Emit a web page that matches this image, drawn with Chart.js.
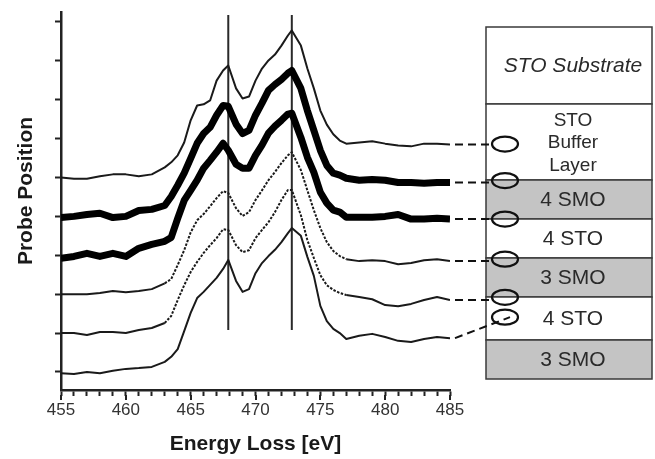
<!DOCTYPE html>
<html>
<head>
<meta charset="utf-8">
<script src="https://cdn.jsdelivr.net/npm/chart.js@4.4.1/dist/chart.umd.min.js"></script>
<style>
  html, body { margin: 0; padding: 0; background: #fff; }
  canvas { display: block; }
</style>
</head>
<body>
<canvas id="eels" width="655" height="459"></canvas>
<script>
// energy loss grid of the spectra (eV)
const energies = [455, 456, 457, 458, 459, 460, 461, 462, 463, 463.5, 464, 464.5, 465, 465.5, 466, 466.5, 467, 467.5, 467.9,
  468.5, 469, 469.5, 470, 470.5, 471, 471.5, 472, 472.5, 472.8, 473.5, 474, 474.5, 475, 475.5, 476, 476.5, 477,
  478, 479, 480, 481, 482, 483, 484, 485];

// Ti L2,3 spectra, top (buffer) to bottom, intensity in units of one probe step
const specBuffer = [0.00, -0.03, -0.03, 0.03, 0.08, 0.08, 0.03, 0.08, 0.26, 0.39, 0.57, 0.90, 1.47, 1.85, 1.88, 1.98, 2.49, 2.75, 2.88,
  2.29, 2.03, 2.08, 2.49, 2.80, 3.01, 3.16, 3.39, 3.65, 3.78, 3.39, 2.80, 2.29, 1.72, 1.36, 1.11, 0.95, 0.87,
  0.90, 0.93, 0.87, 0.82, 0.80, 0.87, 0.87, 0.85];
const specSmoTop = [-0.03, 0.00, 0.05, 0.08, -0.03, 0.00, 0.15, 0.18, 0.28, 0.51, 0.80, 1.11, 1.49, 1.88, 2.13, 2.29, 2.60, 2.85, 2.83,
  2.37, 2.13, 2.21, 2.60, 2.91, 3.24, 3.39, 3.52, 3.68, 3.75, 3.29, 2.72, 2.21, 1.70, 1.31, 1.11, 1.06, 0.98,
  0.93, 0.95, 0.93, 0.87, 0.87, 0.85, 0.87, 0.87];
const specSmoMid = [-0.08, -0.03, 0.05, -0.03, 0.05, -0.03, 0.18, 0.28, 0.36, 0.46, 0.95, 1.41, 1.67, 1.93, 2.24, 2.44, 2.65, 2.88, 2.70,
  2.34, 2.24, 2.24, 2.57, 2.83, 3.14, 3.32, 3.47, 3.63, 3.65, 3.03, 2.52, 2.13, 1.62, 1.34, 1.16, 1.11, 0.98,
  0.98, 0.98, 1.00, 1.05, 0.93, 0.93, 0.95, 0.93];
const specStoUpper = [0.00, 0.00, 0.00, 0.03, 0.08, 0.05, 0.08, 0.13, 0.28, 0.39, 0.75, 1.13, 1.59, 1.90, 2.06, 2.26, 2.47, 2.65, 2.60,
  2.21, 2.01, 2.11, 2.42, 2.67, 2.93, 3.14, 3.37, 3.57, 3.65, 3.19, 2.67, 2.16, 1.70, 1.34, 1.11, 0.98, 0.90,
  0.85, 0.87, 0.85, 0.77, 0.80, 0.87, 0.90, 0.85];
const specInterface = [0.00, 0.00, -0.05, 0.03, 0.03, 0.00, 0.08, 0.13, 0.26, 0.44, 0.85, 1.23, 1.57, 1.83, 2.06, 2.26, 2.44, 2.67, 2.65,
  2.26, 2.08, 2.13, 2.44, 2.65, 2.85, 3.11, 3.42, 3.68, 3.68, 3.03, 2.39, 1.93, 1.49, 1.23, 1.11, 1.03, 0.98,
  0.93, 0.87, 0.72, 0.69, 0.75, 0.85, 0.93, 0.85];
const specStoLower = [-0.03, -0.05, 0.00, -0.03, 0.03, 0.08, 0.10, 0.13, 0.26, 0.39, 0.59, 1.05, 1.52, 1.90, 2.06, 2.24, 2.42, 2.65, 2.88,
  2.34, 2.06, 2.13, 2.54, 2.80, 2.98, 3.14, 3.34, 3.57, 3.70, 3.50, 2.96, 2.47, 1.70, 1.31, 1.11, 1.00, 0.85,
  0.93, 0.98, 0.90, 0.80, 0.77, 0.85, 0.90, 0.87];

// probe position (offset) of each spectrum
const probeOffsets = [6, 5, 4, 3, 2, 1];
// where each probe spot sits on the layer stack, in the same units
const probeSpots = [6.86, 5.92, 4.93, 3.90, 2.92, 2.41];

// L3 / L2 edge markers
const edgeEnergies = [467.9, 472.8];
const edgeSpan = [2.08, 10.18];

const xTickLabels = [455, 460, 465, 470, 475, 480, 485];
const yTicks = [1, 2, 3, 4, 5, 6, 7, 8, 9, 10];

const layerNames = ['STO Substrate', ['STO', 'Buffer', 'Layer'], '4 SMO', '4 STO', '3 SMO', '4 STO', '3 SMO'];

const spectra = [specBuffer, specSmoTop, specSmoMid, specStoUpper, specInterface, specStoLower];
const lineWidths = [2, 7, 7, 2, 2, 2];
// dotted stretch of the line (eV), null = solid
const dottedRange = [null, null, null, [463, 477], [463, 477], null];

let donnees = [];

for (let i = 0; i < spectra.length; i++) {
  let pts = energies.map((e, j) => ({ x: e, y: probeOffsets[i] + spectra[i][j] }));
  let range = dottedRange[i];
  donnees.push({
    data: pts,
    borderColor: lineWidths[i] > 3 ? '#000' : '#1a1a1a',
    borderWidth: lineWidths[i],
    borderJoinStyle: 'round',
    pointRadius: 0,
    tension: 0,
    fill: false,
    segment: {
      borderDash: ctx => (range && ctx.p0.parsed.x >= range[0] && ctx.p1.parsed.x <= range[1]) ? [2.5, 1.5] : undefined
    }
  });
}

for (let e of edgeEnergies) {
  donnees.push({
    data: [{ x: e, y: edgeSpan[0] }, { x: e, y: edgeSpan[1] }],
    borderColor: '#2a2a2a',
    borderWidth: 2,
    pointRadius: 0,
    fill: false
  });
}

// layer stack, connectors, probe spots and axis titles
const panel = {
  id: 'panel',
  afterDraw(chart) {
    const ctx = chart.ctx;
    const xs = chart.scales.x;
    const ys = chart.scales.y;

    ctx.save();

    // longer ticks under the labelled energies
    ctx.strokeStyle = '#222';
    ctx.lineWidth = 2;
    for (let v of xTickLabels) {
      let px = Math.round(xs.getPixelForValue(v));
      ctx.beginPath();
      ctx.moveTo(px, 395);
      ctx.lineTo(px, 400);
      ctx.stroke();
    }

    // layer boxes
    const boxL = 486, boxR = 652;
    const edges = [27, 104, 180, 219, 258, 297, 340, 379];
    const fills = ['#fff', '#fff', '#c4c4c4', '#fff', '#c4c4c4', '#fff', '#c4c4c4'];
    ctx.lineWidth = 1.5;
    ctx.strokeStyle = '#3a3a3a';
    for (let i = 0; i < layerNames.length; i++) {
      ctx.fillStyle = fills[i];
      ctx.fillRect(boxL, edges[i], boxR - boxL, edges[i + 1] - edges[i]);
      ctx.strokeRect(boxL, edges[i], boxR - boxL, edges[i + 1] - edges[i]);
    }

    ctx.fillStyle = '#2a2a2a';
    ctx.textAlign = 'center';
    ctx.textBaseline = 'middle';
    const tx = 573;
    for (let i = 0; i < layerNames.length; i++) {
      let name = layerNames[i];
      let mid = (edges[i] + edges[i + 1]) / 2 + 1;
      if (Array.isArray(name)) {
        ctx.font = '19px "Liberation Sans", Arial, sans-serif';
        let step = 22.5;
        name.forEach((t, k) => ctx.fillText(t, tx, mid + (k - (name.length - 1) / 2) * step));
      } else {
        ctx.font = (i === 0 ? 'italic ' : '') + '21px "Liberation Sans", Arial, sans-serif';
        ctx.fillText(name, tx, mid);
      }
    }

    // dashed connectors from spectrum ends to the probe spots
    const spotX = 505, rx = 13, ry = 7.5;
    ctx.strokeStyle = '#111';
    ctx.lineWidth = 2;
    ctx.setLineDash([8, 5]);
    for (let i = 0; i < spectra.length; i++) {
      let last = probeOffsets[i] + spectra[i][spectra[i].length - 1];
      let y0 = ys.getPixelForValue(last);
      let y1 = ys.getPixelForValue(probeSpots[i]);
      let x0 = xs.getPixelForValue(485) + 5;
      let slanted = Math.abs(y1 - y0) > 6;
      ctx.beginPath();
      ctx.moveTo(x0, y0);
      ctx.lineTo(slanted ? spotX + 5 : spotX - rx, slanted ? y1 : y0);
      ctx.stroke();
    }
    ctx.setLineDash([]);

    // probe spots
    ctx.lineWidth = 2.2;
    for (let s of probeSpots) {
      ctx.beginPath();
      ctx.ellipse(spotX, ys.getPixelForValue(s), rx, ry, 0, 0, Math.PI * 2);
      ctx.stroke();
    }

    // axis titles
    ctx.fillStyle = '#1a1a1a';
    ctx.font = 'bold 21px "Liberation Sans", Arial, sans-serif';
    ctx.textAlign = 'center';
    ctx.textBaseline = 'middle';
    ctx.fillText('Energy Loss [eV]', (chart.chartArea.left + chart.chartArea.right) / 2, 444);

    ctx.translate(26, 191);
    ctx.rotate(-Math.PI / 2);
    ctx.fillText('Probe Position', 0, 0);

    ctx.restore();
  }
};

const config = {
  type: 'line',
  data: { datasets: donnees },
  options: {
    responsive: false,
    animation: false,
    events: [],
    layout: { padding: { left: 0, top: 12, right: 205, bottom: 0 } },
    plugins: { legend: { display: false }, tooltip: { enabled: false } },
    scales: {
      x: {
        type: 'linear',
        min: 455,
        max: 485,
        afterFit: s => { s.height = 69; },
        afterBuildTicks: s => {
          s.ticks = [];
          for (let v = 455; v <= 485; v++) s.ticks.push({ value: v });
        },
        ticks: {
          autoSkip: false,
          maxRotation: 0,
          color: '#333',
          padding: 4,
          font: { family: '"Liberation Sans Narrow", "Arial Narrow", "Liberation Sans", Arial, sans-serif', size: 17 },
          callback: v => xTickLabels.includes(v) ? String(v) : ''
        },
        grid: { drawOnChartArea: false, drawTicks: true, tickLength: 6, tickWidth: 2, tickColor: '#222' },
        border: { display: true, color: '#222', width: 2.5 }
      },
      y: {
        min: 0.537,
        max: 10.254,
        afterFit: s => { s.width = 61; },
        afterBuildTicks: s => { s.ticks = yTicks.map(v => ({ value: v })); },
        ticks: { display: false },
        grid: { drawOnChartArea: false, drawTicks: true, tickLength: 6, tickWidth: 2, tickColor: '#222' },
        border: { display: true, color: '#222', width: 2.5 }
      }
    }
  },
  plugins: [panel]
};

const chartEels = new Chart(document.getElementById('eels').getContext('2d'), config);
</script>
</body>
</html>
